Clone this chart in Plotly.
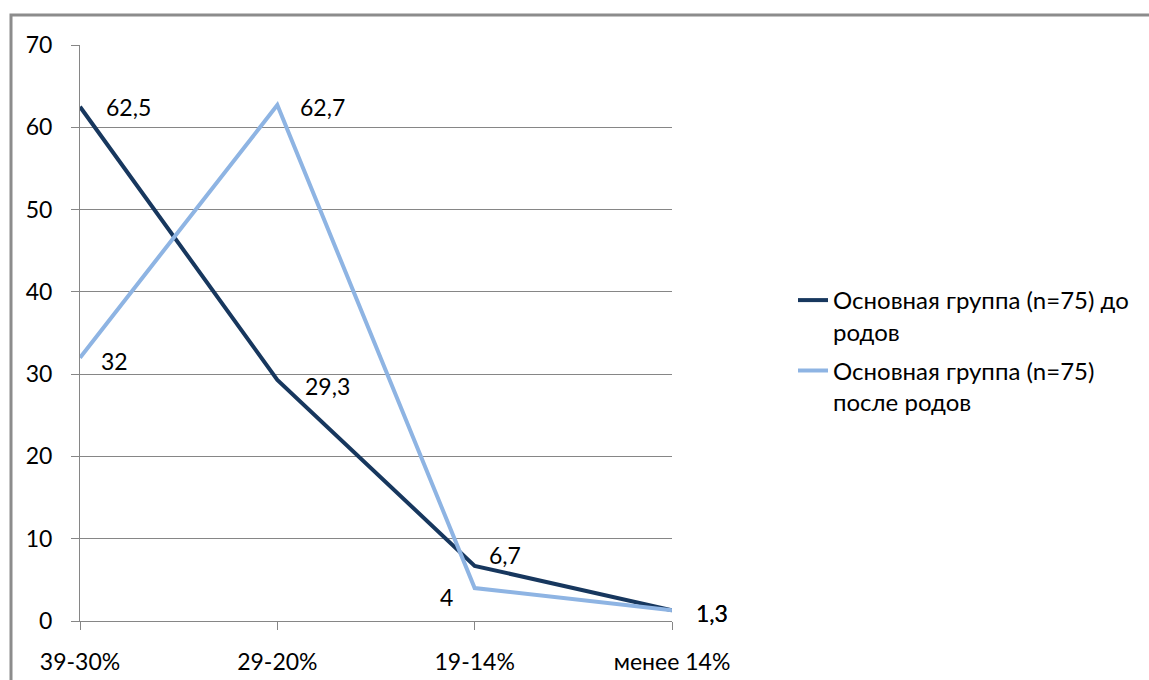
import plotly.graph_objects as go

categories = ["39-30%", "29-20%", "19-14%", "менее 14%"]
before_values = [62.5, 29.3, 6.7, 1.3]
after_values = [32, 62.7, 4, 1.3]
before_labels = ["62,5", "29,3", "6,7", "1,3"]
after_labels = ["32", "62,7", "4", "1,3"]
series_names = ["Основная группа (n=75) до<br>родов", "Основная группа (n=75)<br>после родов"]
y_ticks = [0, 10, 20, 30, 40, 50, 60, 70]

# label offsets (pixels): (xanchor, xshift, yshift)
before_offsets = [("left", 24, 0), ("left", 26, -6), ("left", 12, 11), ("left", 22, -3)]
after_offsets = [("left", 19, -3), ("left", 21, -2), ("right", -20, -9), ("left", 22, -3)]

DARK = "#17375E"
LIGHT = "#8EB4E3"
GRID = "#868686"
FONT = "Lato"
FS = 23

fig = go.Figure()
fig.add_trace(go.Scatter(x=categories, y=before_values, mode="lines", name=series_names[0],
                         legendgroup="g1", line=dict(color=DARK, width=4)))
fig.add_trace(go.Scatter(x=categories, y=after_values, mode="lines", name=series_names[1],
                         legendgroup="g2", line=dict(color=LIGHT, width=4)))

annotations = []
for vals, labs, offs in ((before_values, before_labels, before_offsets), (after_values, after_labels, after_offsets)):
    for c, v, t, (xa, xs, ys) in zip(categories, vals, labs, offs):
        annotations.append(dict(x=c, y=v, xref="x", yref="y", text=t, showarrow=False,
                                xanchor=xa, yanchor="middle", xshift=xs, yshift=ys,
                                font=dict(family=FONT, size=FS, color="#000000")))

W, H = 1149, 680
L, R, T, B = 80, 477, 45, 59
pw, ph = W - L - R, H - T - B

def px(xp):
    return (xp - L) / pw

def py(yp):
    return (H - B - yp) / ph

fig.update_layout(
    width=W, height=H,
    margin=dict(l=L, r=R, t=T, b=B, pad=0, autoexpand=False),
    paper_bgcolor="white", plot_bgcolor="white",
    font=dict(family=FONT, size=FS, color="#000000"),
    showlegend=True,
    legend=dict(x=px(793), y=py(278), xanchor="left", yanchor="top",
                font=dict(family=FONT, size=24, color="#000000"),
                valign="top", tracegroupgap=5, bgcolor="rgba(0,0,0,0)"),
    xaxis=dict(type="category", range=[0, 3], showgrid=False, showline=True, linecolor=GRID,
               linewidth=1, ticks="outside", ticklen=8, tickcolor=GRID, ticklabelstandoff=12,
               zeroline=False, automargin=False),
    yaxis=dict(range=[0, 70], tickvals=y_ticks, showgrid=True, gridcolor=GRID, gridwidth=1,
               showline=True, linecolor=GRID, ticks="outside", ticklen=8, tickcolor=GRID,
               ticklabelstandoff=14, zeroline=False, automargin=False),
    annotations=annotations,
    shapes=[dict(type="rect", xref="paper", yref="paper", x0=px(11), x1=px(1160),
                 y0=py(700), y1=py(15), line=dict(color="#8C8C8C", width=3), layer="below")],
)

fig.write_html("out.html", config={"displayModeBar": False},
               post_script="document.body.style.margin='0px';document.body.style.overflow='hidden';")
